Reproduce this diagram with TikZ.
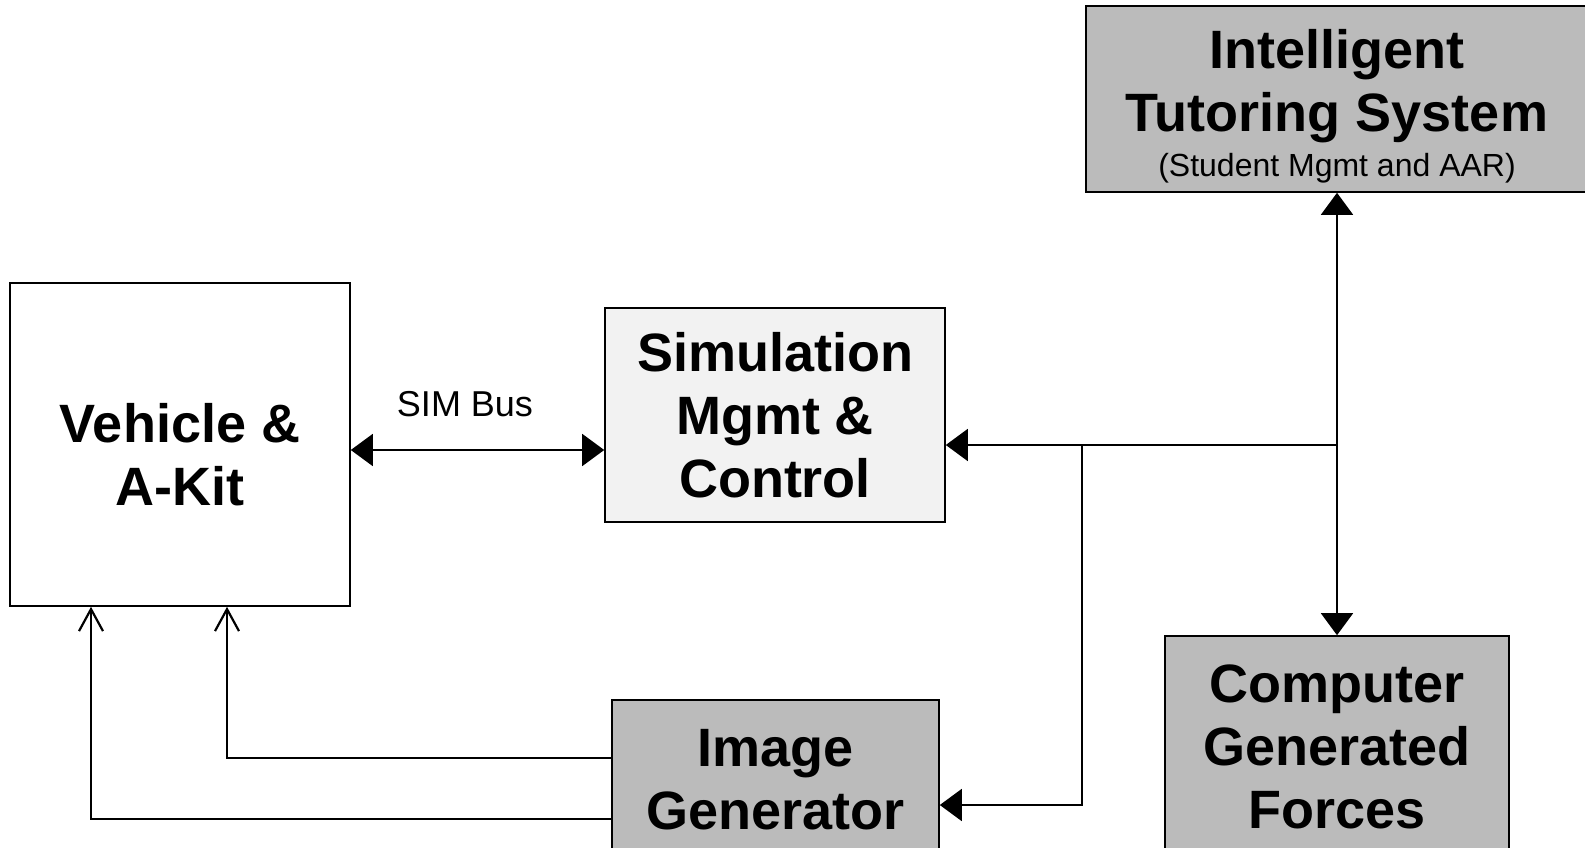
\documentclass[tikz,border=0pt]{standalone}
\usepackage{fontspec}
\setmainfont{Liberation Sans}
\usepackage{tikz}
\usetikzlibrary{positioning}
\usetikzlibrary{arrows.meta}

\definecolor{boxgray}{RGB}{187,187,187}
\definecolor{simgray}{RGB}{242,242,242}

\begin{document}
\begin{tikzpicture}[x=1pt, y=-1pt,
    every node/.style={draw, line width=1.6pt, align=center, inner sep=0pt,
      font=\fontsize{54}{63}\selectfont\bfseries},
    lleno/.style={-{Triangle[length=22pt, width=32pt]}, line width=1.6pt},
    ambos/.style={{Triangle[length=22pt, width=32pt]}-{Triangle[length=22pt, width=32pt]}, line width=1.6pt},
    abierto/.style={-{Straight Barb[length=22pt, width=24pt, line width=2.2pt]}, line width=1.6pt}]
          \useasboundingbox (0,0) rectangle (1585,848);

          % Nodos
          \node[fill=white, minimum width=340pt, minimum height=323pt] (vehicle) at (180,444.5) {\rule{0pt}{59pt}Vehicle \&\\A-Kit};
          \node[fill=simgray, minimum width=340pt, minimum height=214pt] (sim) at (775,415) {Simulation\\Mgmt \&\\Control};
          \node[fill=boxgray, minimum width=502pt, minimum height=186pt] (its) at (1337,99)
            {\rule{0pt}{53pt}Intelligent\\Tutoring System\\[-18pt]{\fontsize{32}{36}\selectfont\mdseries (Student Mgmt and AAR)}};
          \node[fill=boxgray, minimum width=344pt, minimum height=222pt] (cgf) at (1337,747) {Computer\\Generated\\Forces};
          \node[fill=boxgray, minimum width=327pt, minimum height=159pt] (ig) at (775.5,779.5) {Image\\Generator};
          \node[draw=none, font=\fontsize{36}{40}\selectfont] (bus) at (465,404) {SIM Bus};

          % Puntos
          \coordinate (buspt) at (0,450);
          \coordinate (tap) at (1337,445);
          \coordinate (drop) at (1082,445);
          \coordinate (igpt) at (1082,805);
          \coordinate (v1) at (227,758);
          \coordinate (v2) at (91,819);

          % Aristas
          \draw[ambos] (vehicle.east |- buspt) -- (sim.west |- buspt);
          \draw[ambos] (its.south) -- (cgf.north);
          \draw[lleno] (tap) -- (sim.east |- tap);
          \draw[lleno] (drop) -- (igpt) -- (ig.east |- igpt);
          \draw[abierto] (ig.west |- v1) -| (vehicle.south -| v1);
          \draw[abierto] (ig.west |- v2) -| (vehicle.south -| v2);

        \end{tikzpicture}
\end{document}
